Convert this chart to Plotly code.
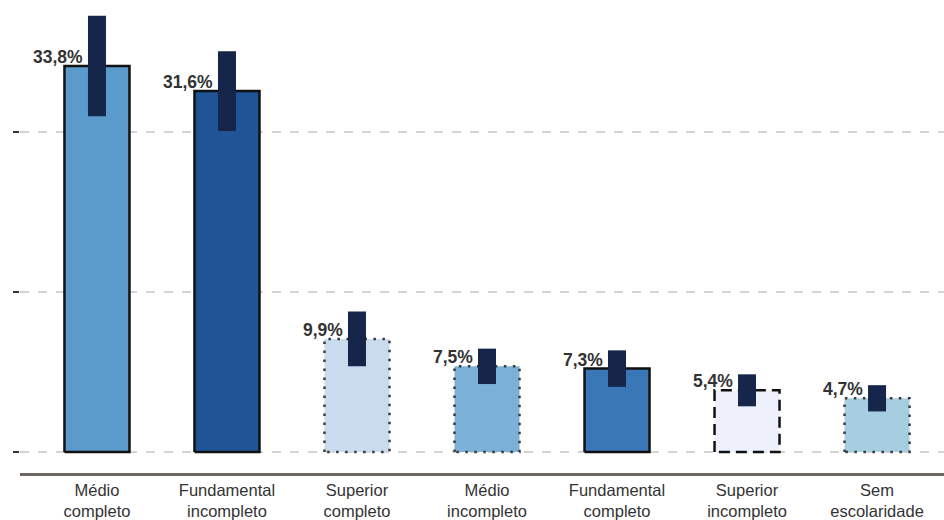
import plotly.graph_objects as go

categories = ["Médio<br>completo", "Fundamental<br>incompleto", "Superior<br>completo",
              "Médio<br>incompleto", "Fundamental<br>completo", "Superior<br>incompleto",
              "Sem<br>escolaridade"]
values = [33.8, 31.6, 9.9, 7.5, 7.3, 5.4, 4.7]
errors = [4.4, 3.5, 2.4, 1.55, 1.6, 1.4, 1.15]
labels = ["33,8%", "31,6%", "9,9%", "7,5%", "7,3%", "5,4%", "4,7%"]

fills = ["#5b9bcb", "#1f5597", "#c9dcee", "#7bb0d7", "#3a77b7", "#eef0fb", "#a6cde0"]
border_dash = ["solid", "solid", "2.5px,6.5px", "2.5px,6.5px", "solid", "11px,6px", "2.5px,6.5px"]
border_color = ["#111111", "#111111", "#3a3a3a", "#3a3a3a", "#111111", "#111111", "#3a3a3a"]

BAR_W = 0.5
xs = list(range(len(values)))

fig = go.Figure()
fig.add_trace(go.Bar(x=xs, y=values, width=BAR_W,
                     marker=dict(color=fills, line=dict(width=0)),
                     showlegend=False, hoverinfo="skip"))

for i, v in enumerate(values):
    x0, x1 = i - BAR_W / 2, i + BAR_W / 2
    fig.add_trace(go.Scatter(x=[x0, x0, x1, x1, x0], y=[0, v, v, 0, 0], mode="lines",
                             line=dict(color=border_color[i], width=2.5, dash=border_dash[i]),
                             showlegend=False, hoverinfo="skip"))

fig.add_trace(go.Scatter(x=xs, y=values, mode="markers", marker=dict(size=0.1, opacity=0),
                         error_y=dict(type="data", array=errors, thickness=18, width=0,
                                      color="#15264a"),
                         showlegend=False, hoverinfo="skip"))

for i, v in enumerate(values):
    fig.add_annotation(x=i - 0.095, y=v, text="<b>" + labels[i] + "</b>", showarrow=False,
                       xanchor="right", yanchor="middle", yshift=9,
                       font=dict(family="Liberation Sans, Arial", size=17.5, color="#333333"))

fig.update_layout(
    width=944, height=520,
    margin=dict(l=20, r=0, t=5, b=47),
    plot_bgcolor="white", paper_bgcolor="white",
    xaxis=dict(range=[-0.592, 6.515], tickvals=xs, ticktext=categories,
               showline=True, linecolor="#6b6661", linewidth=2.5, showgrid=False,
               zeroline=False, ticks="",
               tickfont=dict(family="Liberation Sans, Arial", size=16.5, color="#333333")),
    yaxis=dict(range=[-1.84, 39.14], tickvals=[0, 14, 28], showticklabels=False,
               showgrid=True, gridcolor="#d4d4d4", griddash="dash", gridwidth=1.5,
               zeroline=False, showline=False, ticks="outside", ticklen=6,
               tickcolor="#333333", tickwidth=2),
    bargap=0.5,
)

fig.write_html("out.html", config={"displayModeBar": False},
               post_script="document.body.style.margin='0px';")
